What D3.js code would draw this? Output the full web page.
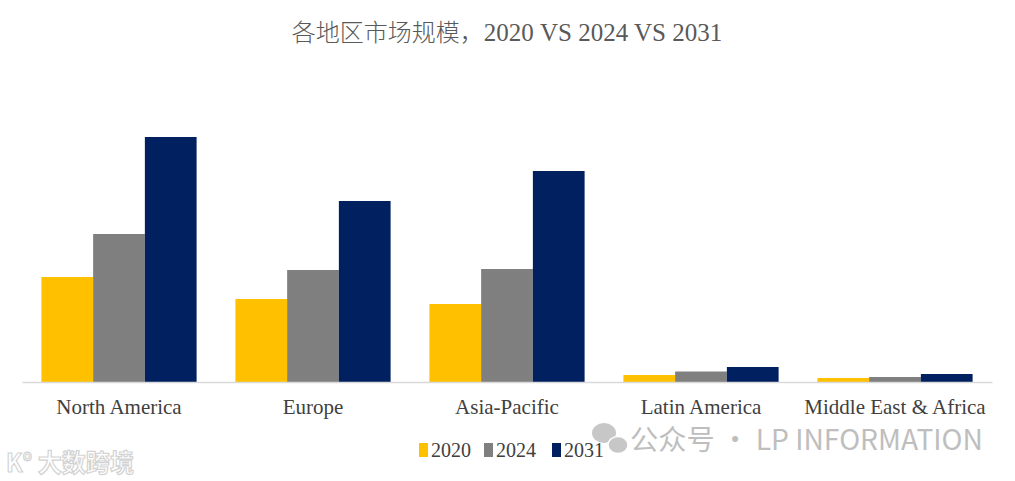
<!DOCTYPE html>
<html>
<head>
<meta charset="utf-8">
<script src="https://cdn.jsdelivr.net/npm/d3@7"></script>
<style>
  html, body { margin: 0; padding: 0; background: #fff; }
  svg { display: block; }
</style>
</head>
<body>
<div id="chart"></div>
<script>
// Regional market size, 2020 vs 2024 vs 2031 (relative units)
var regions = ['North America', 'Europe', 'Asia-Pacific', 'Latin America', 'Middle East & Africa'];
var years = ['2020', '2024', '2031'];
var values2020 = [105, 83, 78, 7, 4];
var values2024 = [148, 112, 113, 10.5, 5];
var values2031 = [245, 181, 211, 15, 8];

var W = 1015, H = 481;
var serif = "'Palatino Linotype', 'Book Antiqua', Palatino, 'Liberation Serif', serif";
var COLORS = { '2020': '#FFC000', '2024': '#808080', '2031': '#002060' };

var series = { '2020': values2020, '2024': values2024, '2031': values2031 };
var rows = regions.map(function (r, i) {
  return { region: r, vals: years.map(function (y) { return { year: y, value: series[y][i] }; }) };
});

var svg = d3.select('#chart').append('svg')
  .attr('width', W).attr('height', H)
  .attr('viewBox', '0 0 ' + W + ' ' + H);

// subtle dither on the grey bars, like the original
var defs = svg.append('defs');
var pat = defs.append('pattern').attr('id', 'grey-dots')
  .attr('width', 2).attr('height', 2).attr('patternUnits', 'userSpaceOnUse');
pat.append('rect').attr('width', 2).attr('height', 2).attr('fill', '#858585');
pat.append('rect').attr('width', 1).attr('height', 1).attr('fill', '#7a7a7a');
pat.append('rect').attr('x', 1).attr('y', 1).attr('width', 1).attr('height', 1).attr('fill', '#7a7a7a');

var x0 = d3.scaleBand().domain(regions).range([22, 992]).paddingInner(0.2).paddingOuter(0.1);
var x1 = d3.scaleBand().domain(years).range([0, x0.bandwidth()]);
var y = d3.scaleLinear().domain([0, 300]).range([382, 82]);

// title
svg.append('text')
  .attr('x', 507).attr('y', 41)
  .attr('text-anchor', 'middle')
  .attr('fill', '#595959')
  .style('font-size', '24px')
  .call(function (t) {
    t.append('tspan').style('font-family', "'Noto Sans CJK SC', sans-serif").style('font-weight', 300)
      .text('各地区市场规模，');
    t.append('tspan').style('font-family', serif).style('font-size', '25px').text('2020 VS 2024 VS 2031');
  });

// bars
var groups = svg.selectAll('.grp').data(rows).join('g')
  .attr('class', 'grp')
  .attr('transform', function (d) { return 'translate(' + x0(d.region) + ',0)'; });

groups.selectAll('rect').data(function (d) { return d.vals; }).join('rect')
  .attr('x', function (d) { return x1(d.year); })
  .attr('width', x1.bandwidth())
  .attr('y', function (d) { return y(d.value); })
  .attr('height', function (d) { return y(0) - y(d.value); })
  .attr('fill', function (d) { return d.year === '2024' ? 'url(#grey-dots)' : COLORS[d.year]; });

// x axis
var xAxis = svg.append('g')
  .attr('transform', 'translate(0,' + y(0) + ')')
  .call(d3.axisBottom(x0).tickSize(0).tickPadding(17));
xAxis.select('.domain').attr('stroke', '#d9d9d9').attr('stroke-width', 1.5);
xAxis.selectAll('text')
  .style('font-family', serif)
  .style('font-size', '21px')
  .attr('fill', '#404040');

// legend
var legendX = [419, 484, 552];
var legend = svg.append('g').selectAll('g').data(years).join('g')
  .attr('transform', function (d, i) { return 'translate(' + legendX[i] + ',443)'; });
legend.append('rect').attr('width', 9).attr('height', 14)
  .attr('fill', function (d) { return d === '2024' ? 'url(#grey-dots)' : COLORS[d]; });
legend.append('text').attr('x', 12).attr('y', 14)
  .style('font-family', serif).style('font-size', '20px')
  .attr('fill', '#404040')
  .text(function (d) { return d; });

// watermarks
var wm = svg.append('g').attr('opacity', 0.55);
wm.append('ellipse').attr('cx', 604).attr('cy', 433).attr('rx', 12).attr('ry', 10).attr('fill', '#9a9a9a');
wm.append('ellipse').attr('cx', 618).attr('cy', 445).attr('rx', 10).attr('ry', 8.5).attr('fill', '#9a9a9a')
  .attr('stroke', '#fff').attr('stroke-width', 1.5);
wm.append('text').attr('x', 630).attr('y', 450)
  .style('font-family', "'Noto Sans CJK SC', sans-serif").style('font-size', '28px')
  .attr('fill', '#8a8a8a')
  .attr('textLength', 353).attr('lengthAdjust', 'spacingAndGlyphs')
  .text('公众号 · LP INFORMATION');
wm.append('text').attr('x', 6).attr('y', 472)
  .style('font-family', "'Noto Sans CJK SC', sans-serif").style('font-size', '25px').style('font-weight', 700)
  .attr('fill', '#ffffff').attr('stroke', '#b0b0b0').attr('stroke-width', 1.2)
  .attr('textLength', 128).attr('lengthAdjust', 'spacingAndGlyphs')
  .text('K° 大数跨境');
</script>
</body>
</html>
